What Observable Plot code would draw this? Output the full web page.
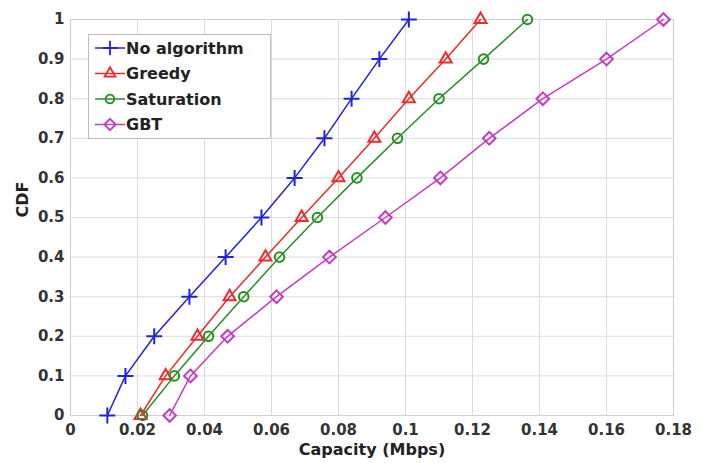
<!DOCTYPE html>
<html><head><meta charset="utf-8">
<script src="https://cdn.jsdelivr.net/npm/d3@7"></script>
<script src="https://cdn.jsdelivr.net/npm/@observablehq/plot@0.6"></script>
<style>
body{margin:0;background:#fff;}
#wrap{position:relative;width:708px;height:463px;font-family:"DejaVu Sans",sans-serif;}
#legend{position:absolute;left:88px;top:34px;}
</style></head><body><div id="wrap"></div>
<script>
const seriesNames = ["No algorithm", "Greedy", "Saturation", "GBT"];
const seriesColors = ["#2222dd", "#ee2a2a", "#249024", "#c43cc4"];
const seriesSymbols = ["plus", "triangle2", "circle", "diamond2"];
const cdfLevels = [0, 0.1, 0.2, 0.3, 0.4, 0.5, 0.6, 0.7, 0.8, 0.9, 1];
const noAlgorithm = [0.011, 0.0164, 0.025, 0.0355, 0.0463, 0.057, 0.0669, 0.0758, 0.0839, 0.0922, 0.101];
const greedy = [0.0209, 0.0284, 0.0379, 0.0475, 0.0582, 0.069, 0.080, 0.0907, 0.101, 0.112, 0.1224];
const saturation = [0.0215, 0.031, 0.0412, 0.0517, 0.0624, 0.0737, 0.0855, 0.0976, 0.110, 0.1233, 0.1364];
const gbt = [0.0296, 0.0358, 0.0469, 0.0615, 0.0773, 0.094, 0.1104, 0.125, 0.141, 0.160, 0.177];
const xTicks = [0, 0.02, 0.04, 0.06, 0.08, 0.1, 0.12, 0.14, 0.16, 0.18];
const yTicks = [0, 0.1, 0.2, 0.3, 0.4, 0.5, 0.6, 0.7, 0.8, 0.9, 1];
const xLabel = "Capacity (Mbps)";
const yLabel = "CDF";

const seriesValues = [noAlgorithm, greedy, saturation, gbt];
const rows = [];
seriesNames.forEach((name, i) => {
  seriesValues[i].forEach((v, j) => rows.push({series: name, capacity: v, cdf: cdfLevels[j]}));
});
const fmt = d => String(+d.toFixed(2));
const markerR = name => name === "Saturation" ? 4.8 : name === "No algorithm" ? 5.2 : 5.7;

const chart = Plot.plot({
  width: 708, height: 463,
  marginLeft: 70, marginRight: 35, marginTop: 19, marginBottom: 48,
  style: {fontFamily: "DejaVu Sans, sans-serif", background: "#fff"},
  x: {domain: [0, 0.18]},
  y: {domain: [0, 1]},
  r: {type: "identity"},
  color: {domain: seriesNames, range: seriesColors},
  symbol: {domain: seriesNames, range: seriesSymbols},
  marks: [
    Plot.gridX(xTicks, {stroke: "#dcdcdc", strokeOpacity: 1}),
    Plot.gridY(yTicks, {stroke: "#dcdcdc", strokeOpacity: 1}),
    Plot.frame({stroke: "#cfcfcf"}),
    Plot.axisX(xTicks, {tickSize: 0, tickPadding: 9, tickFormat: fmt, fontSize: 15, fontWeight: "bold", fill: "#333", label: null}),
    Plot.axisY(yTicks, {tickSize: 0, tickPadding: 6, tickFormat: fmt, fontSize: 15, fontWeight: "bold", fill: "#333", label: null}),
    Plot.text([xLabel], {frameAnchor: "bottom", dy: 39, fontSize: 16, fontWeight: "bold", fill: "#222"}),
    Plot.text([yLabel], {frameAnchor: "left", dx: -48, rotate: -90, fontSize: 16, fontWeight: "bold", fill: "#222"}),
    Plot.line(rows, {x: "capacity", y: "cdf", z: "series", stroke: "series", strokeWidth: 1.5}),
    Plot.dot(rows, {x: "capacity", y: "cdf", symbol: "series", stroke: "series", fill: "none", strokeWidth: 2, r: d => markerR(d.series)})
  ]
});
const wrap = document.getElementById("wrap");
wrap.appendChild(chart);

// legend overlay built from series arrays
const symMap = {plus: d3.symbolPlus, triangle2: d3.symbolTriangle2, circle: d3.symbolCircle, diamond2: d3.symbolDiamond2};
const lw = 183, lh = 105;
const leg = d3.select(wrap).append("svg").attr("id", "legend").attr("width", lw).attr("height", lh);
leg.append("rect").attr("x", 0.5).attr("y", 0.5).attr("width", lw - 1).attr("height", lh - 1).attr("fill", "#fff").attr("stroke", "#bdbdbd");
seriesNames.forEach((name, i) => {
  const cy = 14 + i * 25.5;
  const g = leg.append("g");
  g.append("line").attr("x1", 7).attr("x2", 37).attr("y1", cy).attr("y2", cy).attr("stroke", seriesColors[i]).attr("stroke-width", 1.5);
  const r = markerR(name) * 0.9;
  g.append("path").attr("transform", `translate(22,${cy})`).attr("d", d3.symbol(symMap[seriesSymbols[i]], r * r * Math.PI)()).attr("fill", "none").attr("stroke", seriesColors[i]).attr("stroke-width", 1.8);
  g.append("text").attr("x", 38).attr("y", cy).attr("dy", "0.35em").attr("font-family", "DejaVu Sans, sans-serif").attr("font-size", 16).attr("font-weight", "bold").attr("fill", "#222").text(name);
});
</script></body></html>
